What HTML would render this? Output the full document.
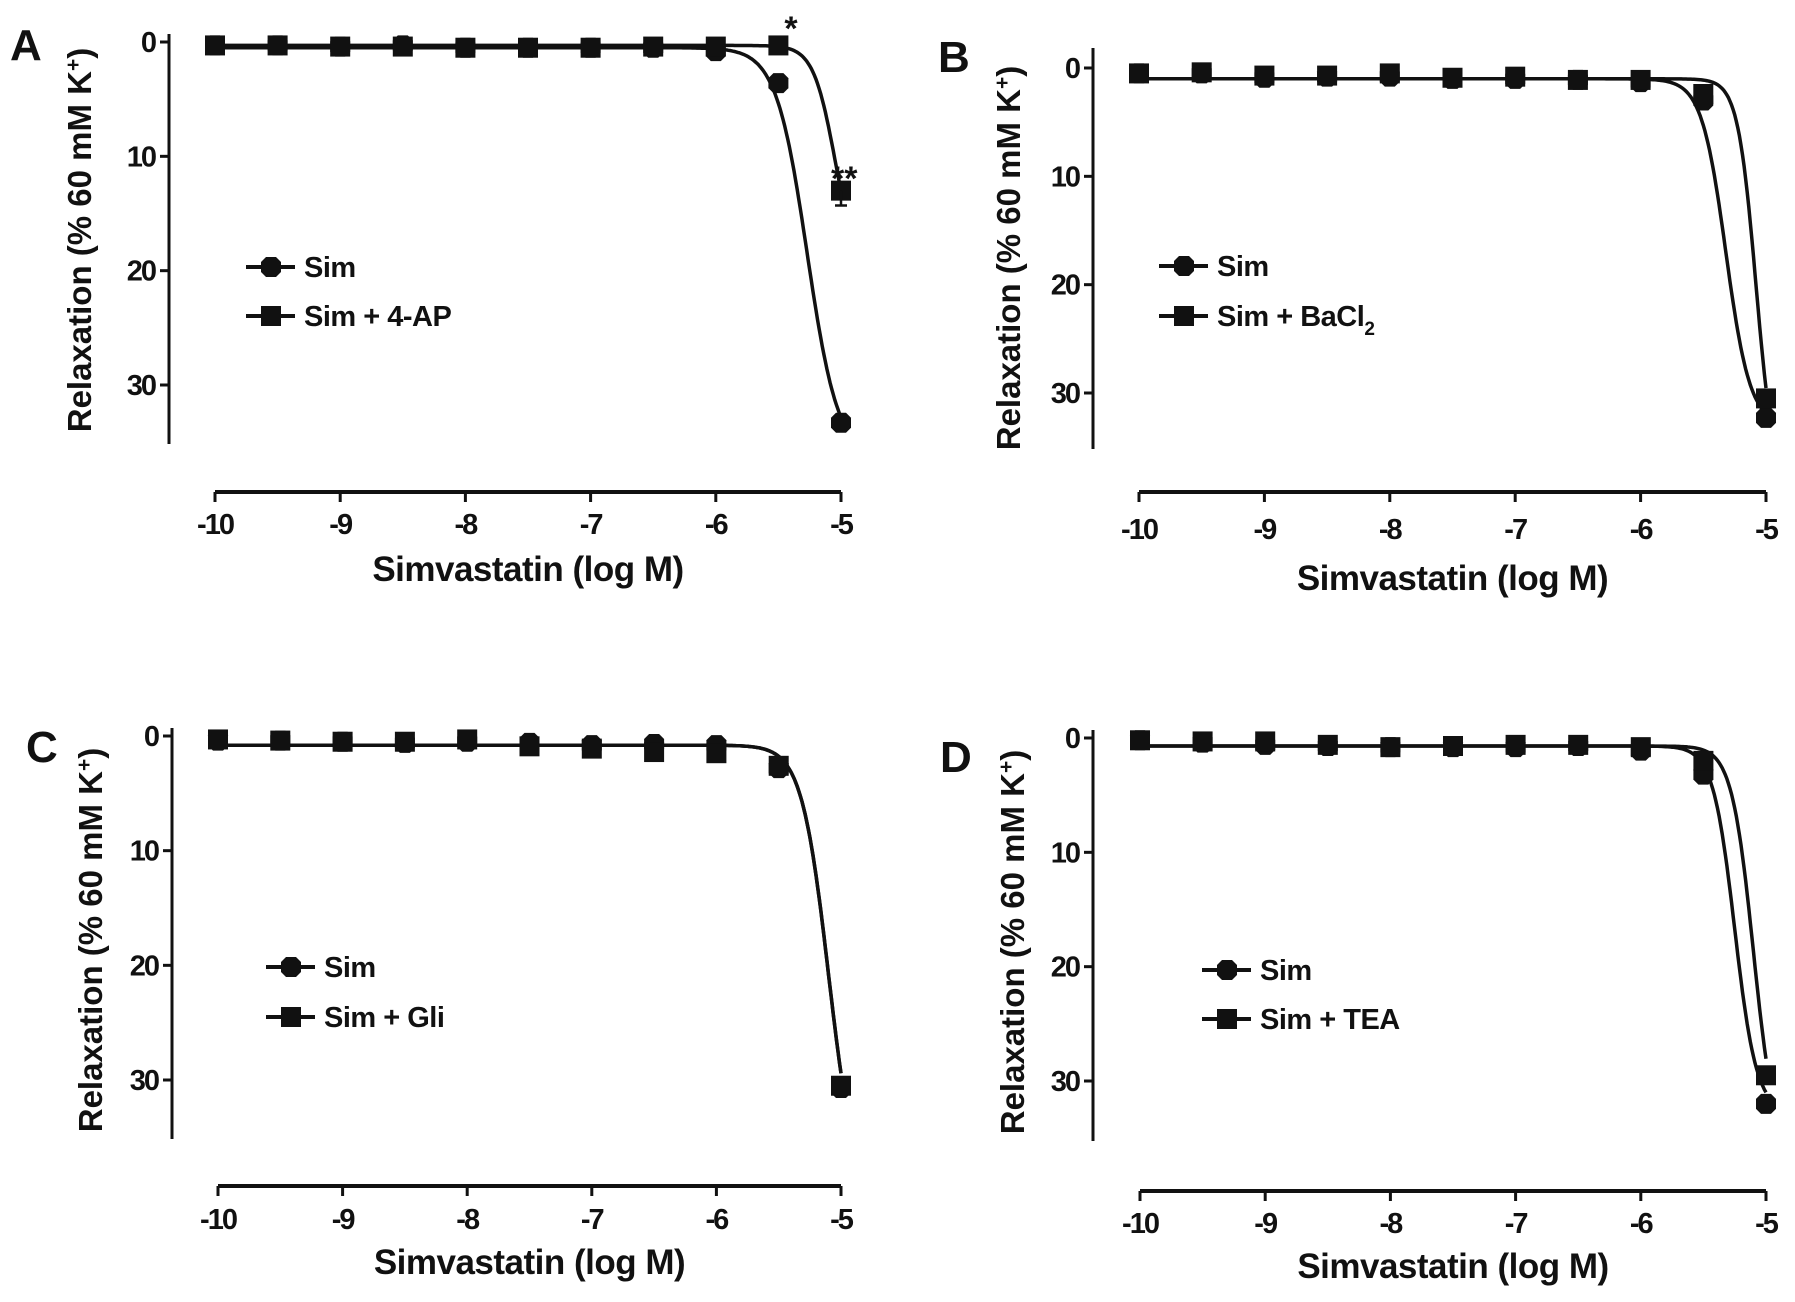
<!DOCTYPE html>
<html><head><meta charset="utf-8"><style>
html,body{margin:0;padding:0;background:#fff;}
svg{display:block;font-family:"Liberation Sans",sans-serif;font-weight:bold;}
</style></head><body>
<svg id="fig" width="1795" height="1302" viewBox="0 0 1795 1302" xmlns="http://www.w3.org/2000/svg"></svg>
<script>
const xCats = [-10,-9.5,-9,-8.5,-8,-7.5,-7,-6.5,-6,-5.5,-5];
const xTicks = [-10,-9,-8,-7,-6,-5];
const yTicks = [0,10,20,30];
const simA = [0.3,0.3,0.4,0.3,0.5,0.5,0.5,0.5,0.8,3.6,33.3];
const apA  = [0.3,0.3,0.4,0.4,0.5,0.5,0.5,0.4,0.4,0.3,13];
const simB = [0.5,0.5,0.9,0.8,0.8,1.0,1.0,1.1,1.3,3.0,32.3];
const baB  = [0.5,0.4,0.7,0.7,0.5,0.9,0.8,1.1,1.1,2.4,30.5];
const simC = [0.4,0.4,0.5,0.6,0.5,0.6,0.8,0.7,0.8,2.8,30.7];
const gliC = [0.3,0.4,0.5,0.5,0.3,0.9,1.1,1.4,1.5,2.6,30.5];
const simD = [0.2,0.4,0.6,0.7,0.8,0.8,0.8,0.7,1.1,3.2,32];
const teaD = [0.2,0.3,0.3,0.6,0.8,0.7,0.6,0.6,0.8,2.0,29.5];
// fitted curve params: base, span, logEC50, hill
const fitSimA=[0.5,36,-5.27,3.5], fitApA=[0.3,20,-5.048,5];
const fitSimB=[1,32,-5.32,4.5], fitBaB=[1,38,-5.08,6];
const fitSimC=[0.8,40,-5.1,4], fitGliC=[0.8,40,-5.1,4];
const fitSimD=[0.7,32,-5.25,5], fitTeaD=[0.7,36,-5.1,5];

const NS="http://www.w3.org/2000/svg", svg=document.getElementById('fig');
function mk(tag,attrs,parent,text){const e=document.createElementNS(NS,tag);for(const k in attrs)e.setAttribute(k,attrs[k]);if(text!==undefined)e.textContent=text;(parent||svg).appendChild(e);return e;}

const panels=[
 {id:'a',L:'A',lx:10,ly:60,ax:169,y0:42,y30:385,yb:444,yt:34,xa:492,x0:215,x5:841,tl:524,tt:569,yx:80,yc:240,
  s:[simA,apA],f:[fitSimA,fitApA],names:['Sim','Sim + 4-AP'],legx:246,legy:[267,316]},
 {id:'b',L:'B',lx:938,ly:72,ax:1093,y0:68,y30:393,yb:449,yt:48,xa:492,x0:1139,x5:1766,tl:529,tt:578,yx:1009,yc:258,
  s:[simB,baB],f:[fitSimB,fitBaB],names:['Sim','Sim + BaCl'],legx:1159,legy:[266,316]},
 {id:'c',L:'C',lx:26,ly:762,ax:172,y0:736,y30:1080,yb:1139,yt:728,xa:1186,x0:218,x5:841,tl:1219,tt:1262,yx:91,yc:940,
  s:[simC,gliC],f:[fitSimC,fitGliC],names:['Sim','Sim + Gli'],legx:266,legy:[967,1017]},
 {id:'d',L:'D',lx:940,ly:772,ax:1093,y0:738,y30:1081,yb:1141,yt:730,xa:1191,x0:1140,x5:1766,tl:1223,tt:1266,yx:1013,yc:942,
  s:[simD,teaD],f:[fitSimD,fitTeaD],names:['Sim','Sim + TEA'],legx:1202,legy:[970,1019]}
];

function marker(g,type,x,y,name){
  let m;
  if(type===0){m=mk('polygon',{points:[[-5,-10],[5,-10],[10,-5],[10,5],[5,10],[-5,10],[-10,5],[-10,-5]].map(p=>(x+p[0])+','+(y+p[1])).join(' '),fill:'#111'},g);}
  else{m=mk('rect',{x:x-10,y:y-10,width:20,height:20,fill:'#111'},g);}
  
  
  return m;
}

panels.forEach(p=>{
  const X=v=>p.x0+(v+10)/5*(p.x5-p.x0);
  const Y=v=>p.y0+v/30*(p.y30-p.y0);
  const g=mk('g',{},svg);
  
  
  const lt=mk('text',{x:p.lx,y:p.ly,'font-size':44,fill:'#111'},g,p.L);
  
  
  const ya=mk('line',{x1:p.ax,y1:p.yt,x2:p.ax,y2:p.yb,stroke:'#111','stroke-width':3},g);
  
  
  yTicks.forEach(t=>{
    mk('line',{x1:p.ax-9,y1:Y(t),x2:p.ax,y2:Y(t),stroke:'#111','stroke-width':3},g);
    const tx=mk('text',{x:p.ax-14,y:Y(t)+10,'font-size':29,'text-anchor':'end',fill:'#111','letter-spacing':-2},g,String(t));
    
    
  });
  const xa=mk('line',{x1:X(-10),y1:p.xa,x2:X(-5),y2:p.xa,stroke:'#111','stroke-width':4},g);
  
  
  xTicks.forEach(t=>{
    mk('line',{x1:X(t),y1:p.xa,x2:X(t),y2:p.xa+10,stroke:'#111','stroke-width':3},g);
    const tx=mk('text',{x:X(t),y:p.tl+10,'font-size':29,'text-anchor':'middle',fill:'#111','letter-spacing':-2},g,String(t));
    
    
  });
  const xt=mk('text',{x:(X(-10)+X(-5))/2,y:p.tt+12,'font-size':35,'text-anchor':'middle',fill:'#111','letter-spacing':-0.5},g,'Simvastatin (log M)');
  
  
  const yt=mk('text',{x:0,y:0,'font-size':33,'text-anchor':'middle',fill:'#111',transform:`translate(${p.yx+11},${p.yc}) rotate(-90)`},g);
  
  
  yt.appendChild(document.createTextNode('Relaxation (%  60 mM K'));
  mk('tspan',{dy:-11,'font-size':21},yt,'+');
  mk('tspan',{dy:11},yt,')');
  p.f.forEach((f,si)=>{
    let d='';
    for(let i=0;i<=400;i++){const x=-10+i*5/400;const y=f[0]+f[1]/(1+Math.pow(10,f[3]*(f[2]-x)));d+=(i?'L':'M')+X(x).toFixed(1)+','+Y(y).toFixed(1);}
    const c=mk('path',{d:d,fill:'none',stroke:'#111','stroke-width':3.5},g);
    
    
  });
  p.s.forEach((s,si)=>{
    s.forEach((v,i)=>{marker(g,si,X(xCats[i]),Y(v),si?'point-treated':'point-sim');});
  });
  p.names.forEach((n,i)=>{
    const lg=mk('g',{},g);
    
    
    mk('line',{x1:p.legx,y1:p.legy[i],x2:p.legx+49,y2:p.legy[i],stroke:'#111','stroke-width':4},lg);
    marker(lg,i,p.legx+25,p.legy[i],'legend-marker');
    const t=mk('text',{x:p.legx+58,y:p.legy[i]+10,'font-size':29,fill:'#111','letter-spacing':-0.5},lg,n);
    if(p.id==='b'&&i===1){mk('tspan',{dy:9,'font-size':19},t,'2');}
  });
  if(p.id==='a'){
    mk('line',{x1:X(-5),y1:Y(13),x2:X(-5),y2:Y(14.3),stroke:'#111','stroke-width':2.5},g);
    mk('line',{x1:X(-5)-6,y1:Y(14.3),x2:X(-5)+6,y2:Y(14.3),stroke:'#111','stroke-width':2.5},g);
    const s1=mk('text',{x:X(-5.5)+6,y:40,'font-size':34,fill:'#111'},g,'*');
    
    
    const s2=mk('text',{x:X(-5)-10,y:190,'font-size':34,fill:'#111'},g,'**');
    
    
  }
});
</script>
</body></html>
